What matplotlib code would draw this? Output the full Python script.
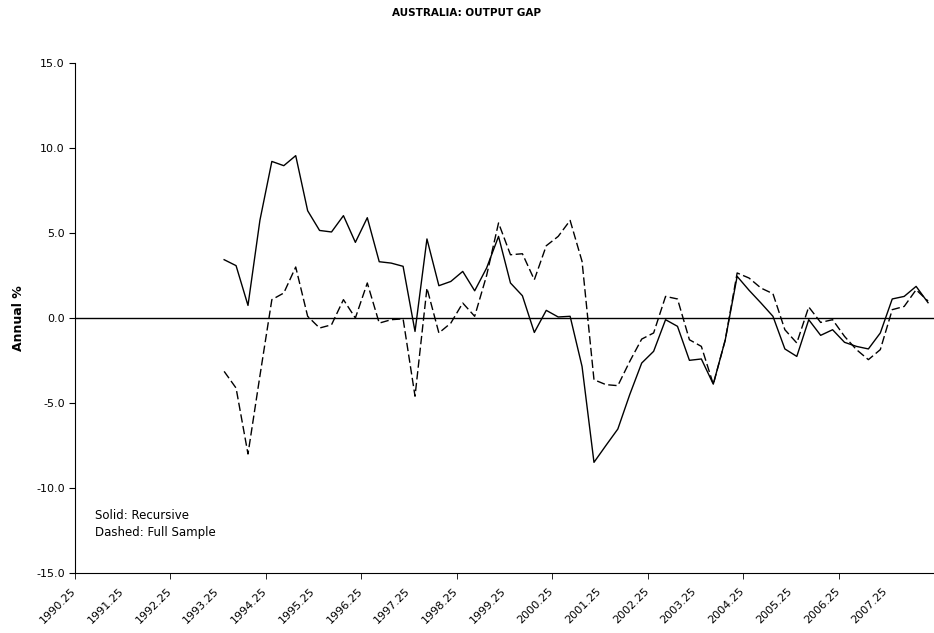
import numpy as np
import matplotlib
matplotlib.use("Agg")
import matplotlib.pyplot as plt
import matplotlib.transforms as mtransforms

# quarterly categories 1990.25 .. 2008.0, labelled once a year
tick_labels = [f"{y}.25" for y in range(1990, 2008)]

# both series start at 1993.25 (category index 12)
start = 12
recursive = [3.43, 3.08, 0.74, 5.75, 9.21, 8.96, 9.55, 6.31, 5.15, 5.06,
             6.02, 4.45, 5.9, 3.31, 3.23, 3.04, -0.79, 4.65, 1.9, 2.15,
             2.74, 1.6, 2.94, 4.8, 2.06, 1.31, -0.85, 0.45, 0.06, 0.1,
             -2.85, -8.49, -7.5, -6.53, -4.5, -2.65, -1.96, -0.1, -0.49, -2.49,
             -2.41, -3.89, -1.3, 2.45, 1.63, 0.88, 0.1, -1.82, -2.26, -0.1,
             -1.02, -0.69, -1.43, -1.67, -1.82, -0.88, 1.12, 1.27, 1.86, 0.9]
full_sample = [-3.14, -4.12, -8.0, -3.4, 1.08, 1.47, 3.0, 0.1, -0.59, -0.4,
               1.08, 0.0, 2.06, -0.3, -0.1, -0.05, -4.6, 1.76, -0.88, -0.3,
               0.88, 0.1, 2.5, 5.59, 3.72, 3.78, 2.25, 4.25, 4.8, 5.74,
               3.33, -3.63, -3.92, -3.98, -2.55, -1.24, -0.88, 1.27, 1.12, -1.28,
               -1.67, -3.9, -1.3, 2.65, 2.35, 1.76, 1.43, -0.69, -1.47, 0.65,
               -0.26, -0.1, -1.08, -1.86, -2.45, -1.86, 0.49, 0.68, 1.66, 1.0]

x = np.arange(start, start + len(recursive))

fig = plt.figure(figsize=(9.34, 6.33), dpi=100)
ax = fig.add_axes([75 / 934, 60 / 633, 859 / 934, 510 / 633])

ax.plot(x, recursive, color="black", lw=1.0)
ax.plot(x, full_sample, color="black", lw=1.0, dashes=(6, 2.5))
ax.axhline(0, color="black", lw=1.0)

ax.set_xlim(-0.5, 70.9)
ax.set_ylim(-15, 15)

# labels every 4 quarters, tick marks every 8
ax.set_xticks(np.arange(0, 72, 4))
ax.set_xticklabels(tick_labels, rotation=45, ha="right", va="top",
                   rotation_mode="anchor", fontsize=8)
ax.tick_params(axis="x", which="major", length=0, pad=8)
shift = mtransforms.ScaledTranslation(-0.10, -0.02, fig.dpi_scale_trans)
for lab in ax.get_xticklabels():
    lab.set_transform(lab.get_transform() + shift)
ax.set_xticks(np.arange(-0.5, 72, 8), minor=True)
ax.tick_params(axis="x", which="minor", length=4, direction="out")

ax.set_yticks(np.arange(-15, 16, 5))
ax.set_yticklabels([f"{v:.1f}" for v in np.arange(-15, 16, 5)], fontsize=8)
ax.tick_params(axis="y", length=4, direction="out")

for s in ["top", "right"]:
    ax.spines[s].set_visible(False)

ax.set_ylabel("Annual %", fontsize=9, fontweight="bold", labelpad=8)
fig.suptitle("AUSTRALIA: OUTPUT GAP", fontsize=7.5, fontweight="bold", y=0.987)

ax.text(0.023, 0.106, "Solid: Recursive", transform=ax.transAxes, fontsize=8.5)
ax.text(0.023, 0.073, "Dashed: Full Sample", transform=ax.transAxes, fontsize=8.5)

fig.savefig("out.png", dpi=100)
